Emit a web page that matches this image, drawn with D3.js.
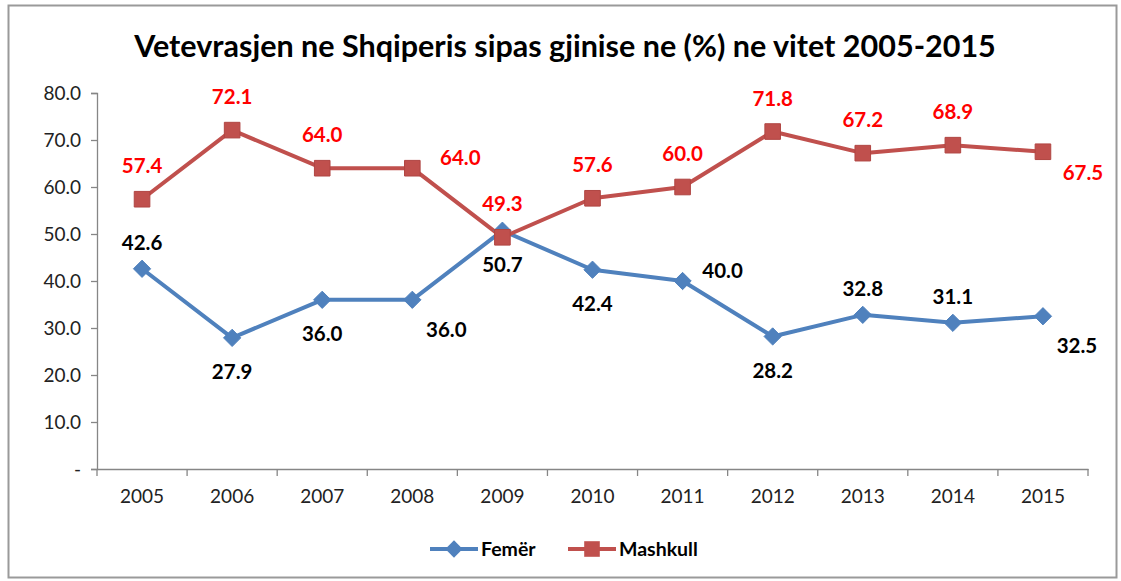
<!DOCTYPE html>
<html>
<head>
<meta charset="utf-8">
<script src="https://cdn.jsdelivr.net/npm/d3@7"></script>
<style>
  html, body { margin: 0; padding: 0; background: #fff; }
  svg { display: block; }
</style>
</head>
<body>
<svg id="chart" width="1121" height="581"></svg>
<script>
const title = "Vetevrasjen ne Shqiperis sipas gjinise ne (%) ne vitet 2005-2015";
const years = ["2005","2006","2007","2008","2009","2010","2011","2012","2013","2014","2015"];
const femer = [42.6, 27.9, 36.0, 36.0, 50.7, 42.4, 40.0, 28.2, 32.8, 31.1, 32.5];
const mashkull = [57.4, 72.1, 64.0, 64.0, 49.3, 57.6, 60.0, 71.8, 67.2, 68.9, 67.5];
const yTicks = [0, 10, 20, 30, 40, 50, 60, 70, 80];
const seriesNames = ["Femër", "Mashkull"];
// label placement: t = above, b = below, r = right, br = below-right
const femerPos = ["t","b","b","br","b","b","r","b","t","t","br"];
const mashkullPos = ["t","t","t","r","t","t","t","t","t","t","br"];

const svg = d3.select("#chart");
const font = "Lato, 'Open Sans', sans-serif";

// frame
svg.append("rect").attr("x", 8.5).attr("y", 5.5).attr("width", 1108).attr("height", 572)
  .attr("fill", "#fff").attr("stroke", "#9a9a9a").attr("stroke-width", 2);

const plot = { left: 97, right: 1088, top: 93, bottom: 469 };

const x = d3.scaleBand().domain(years).range([plot.left, plot.right]).paddingInner(0).paddingOuter(0);
const y = d3.scaleLinear().domain([0, 80]).range([plot.bottom, plot.top]);
const cx = d => x(d) + x.bandwidth() / 2;

// title
svg.append("text").attr("x", 565).attr("y", 57).attr("text-anchor", "middle")
  .attr("font-family", font).attr("font-weight", "bold").attr("font-size", 30.5)
  .attr("fill", "#000").text(title);

// y axis
const yAxis = d3.axisLeft(y).tickValues(yTicks).tickSize(6).tickPadding(10)
  .tickFormat(v => v === 0 ? "-" : d3.format(".1f")(v));
const gy = svg.append("g").attr("transform", `translate(${plot.left},0)`).call(yAxis);
gy.select(".domain").attr("stroke", "#868686").attr("stroke-width", 1.3);
gy.selectAll(".tick line").attr("stroke", "#868686").attr("stroke-width", 1.3);
gy.selectAll(".tick text").attr("font-family", font).attr("font-size", 19).attr("fill", "#222");

// x axis
const xAxis = d3.axisBottom(x).tickSize(0).tickPadding(21);
const gx = svg.append("g").attr("transform", `translate(0,${plot.bottom})`).call(xAxis);
gx.select(".domain").attr("stroke", "#868686").attr("stroke-width", 1.3);
gx.selectAll(".tick text").attr("font-family", font).attr("font-size", 19).attr("fill", "#222");
// category boundary ticks
const bounds = years.map(d => x(d)).concat([x(years[years.length-1]) + x.bandwidth()]);
gx.selectAll(".bound").data(bounds).enter().append("line")
  .attr("x1", d => d).attr("x2", d => d).attr("y1", 0).attr("y2", 7)
  .attr("stroke", "#868686").attr("stroke-width", 1.3);

const blue = "#4F81BD", red = "#C0504D";
const line = d3.line().x((d, i) => cx(years[i])).y(d => y(d));

svg.append("path").datum(femer).attr("d", line).attr("fill", "none")
  .attr("stroke", blue).attr("stroke-width", 4).attr("stroke-linejoin", "round");
svg.append("path").datum(mashkull).attr("d", line).attr("fill", "none")
  .attr("stroke", red).attr("stroke-width", 4).attr("stroke-linejoin", "round");

const diamond = d3.symbol().type(d3.symbolDiamond2).size(190);
const square = d3.symbol().type(d3.symbolSquare2).size(310);

svg.selectAll(".fm").data(femer).enter().append("path")
  .attr("d", diamond).attr("transform", (d, i) => `translate(${cx(years[i])},${y(d)})`)
  .attr("fill", blue).attr("stroke", blue).attr("stroke-width", 1);

svg.selectAll(".mm").data(mashkull).enter().append("path")
  .attr("d", square).attr("transform", (d, i) => `translate(${cx(years[i])},${y(d)})`)
  .attr("fill", red).attr("stroke", "#B04542").attr("stroke-width", 1);

function offset(pos, isSquare) {
  switch (pos) {
    case "t": return [0, isSquare ? -33 : -26];
    case "b": return [0, isSquare ? 32 : 34];
    case "r": return [isSquare ? 48 : 40, -10];
    case "br": return [isSquare ? 40 : 34, isSquare ? 21 : 30];
  }
}

function labels(vals, posArr, color, isSquare) {
  svg.selectAll(null).data(vals).enter().append("text")
    .attr("x", (d, i) => cx(years[i]) + offset(posArr[i], isSquare)[0])
    .attr("y", (d, i) => y(d) + offset(posArr[i], isSquare)[1])
    .attr("dy", "0.35em").attr("text-anchor", "middle")
    .attr("font-family", font).attr("font-weight", "bold").attr("font-size", 20.5)
    .attr("fill", color).text(d => d3.format(".1f")(d));
}
labels(femer, femerPos, "#000", false);
labels(mashkull, mashkullPos, "#FF0000", true);

// legend
const leg = svg.append("g").attr("transform", "translate(0,549)");
const legItems = [
  { name: seriesNames[0], color: blue, sym: diamond, x0: 430 },
  { name: seriesNames[1], color: red, sym: square, x0: 568 }
];
legItems.forEach(it => {
  leg.append("line").attr("x1", it.x0).attr("x2", it.x0 + 48).attr("y1", 0).attr("y2", 0)
    .attr("stroke", it.color).attr("stroke-width", 4);
  leg.append("path").attr("d", it.sym).attr("transform", `translate(${it.x0 + 24},0)`)
    .attr("fill", it.color);
  leg.append("text").attr("x", it.x0 + 51).attr("y", 0).attr("dy", "0.35em")
    .attr("font-family", font).attr("font-weight", "bold").attr("font-size", 19.5)
    .attr("fill", "#000").text(it.name);
});
</script>
</body>
</html>
